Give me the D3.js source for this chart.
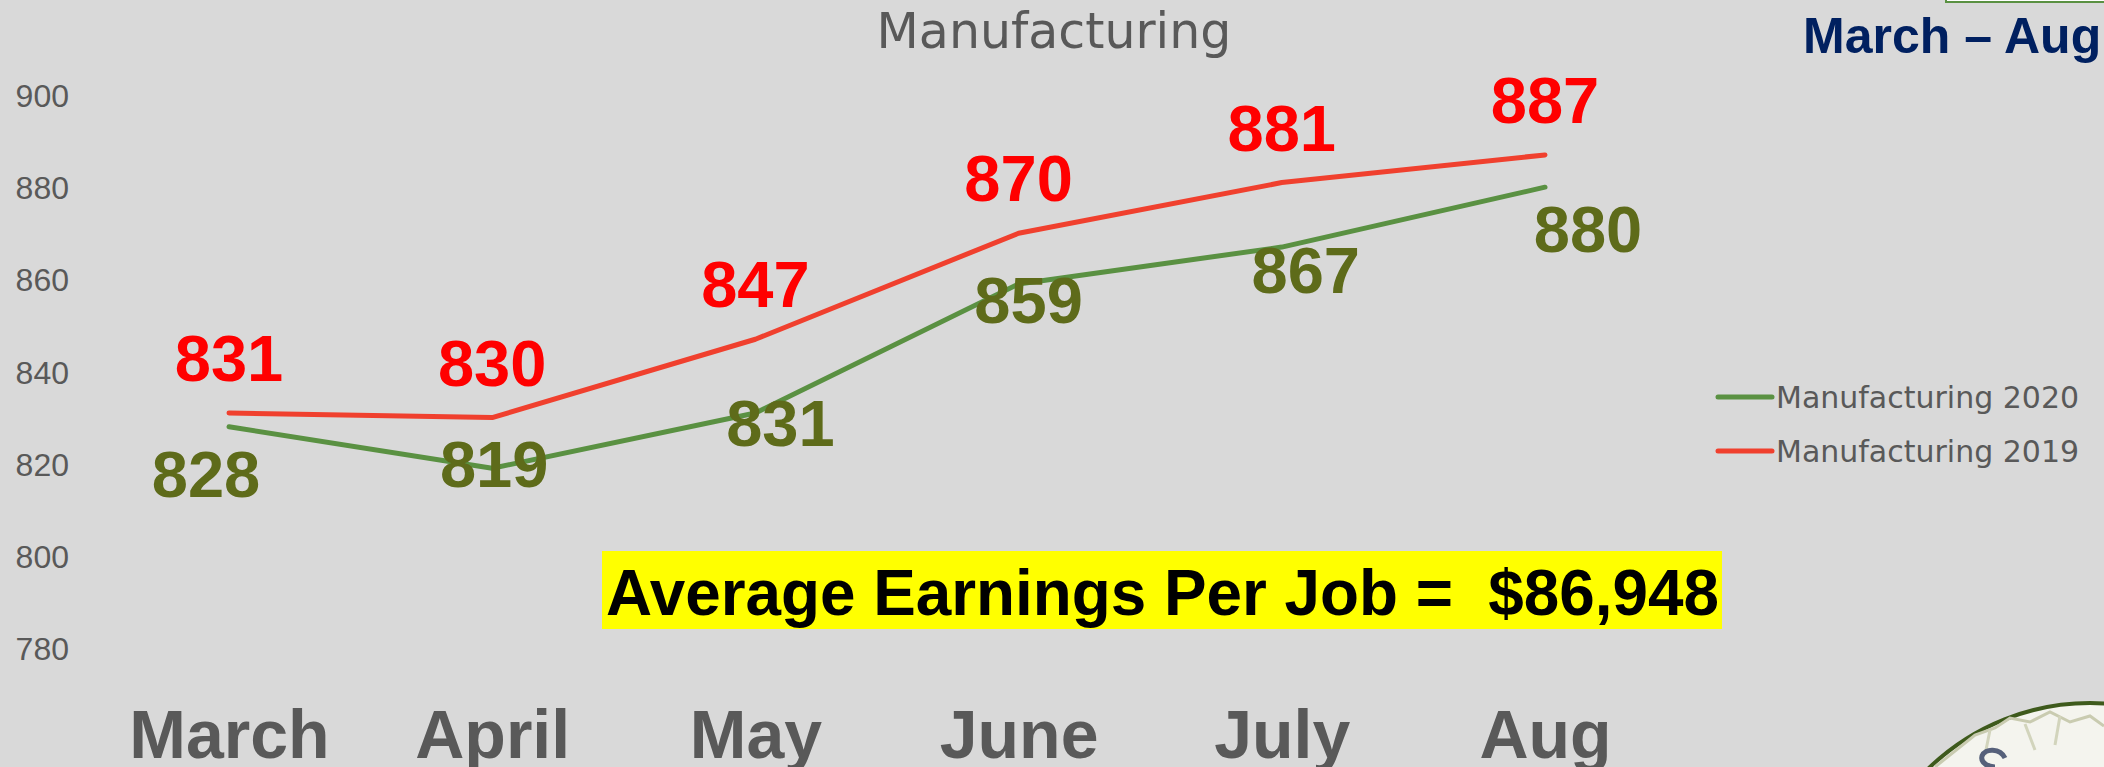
<!DOCTYPE html>
<html>
<head>
<meta charset="utf-8">
<script src="https://cdn.jsdelivr.net/npm/d3@7"></script>
<style>
  html, body { margin: 0; padding: 0; background: #d9d9d9; overflow: hidden; }
  svg { display: block; }
  text { white-space: pre; }
</style>
</head>
<body>
<svg id="chart" width="2104" height="767"></svg>
<script>
// ---- data ----
const months = ["March", "April", "May", "June", "July", "Aug"];
const manufacturing2020 = [828, 819, 831, 859, 867, 880];
const manufacturing2019 = [831, 830, 847, 870, 881, 887];
const yTicks = [780, 800, 820, 840, 860, 880, 900];
const seriesNames = ["Manufacturing 2020", "Manufacturing 2019"];
const chartTitle = "Manufacturing";
const periodTitle = "March \u2013 August";
const calloutText = "Average Earnings Per Job =  $86,948";

// ---- layout (label placement, not data) ----
const greenLabelOffsets = [[-23, 70], [2, 19], [25, 33], [10, 39], [24, 46], [43, 65]];
const redLabelDy = -32;

const svg = d3.select("#chart");
const W = 2104, H = 767;
svg.append("rect").attr("width", W).attr("height", H).attr("fill", "#d9d9d9");

const x = d3.scalePoint().domain(months).range([229, 1545]);
const y = d3.scaleLinear().domain([780, 900]).range([648, 95]);

const GRAY = "#595959";
const RED_LINE = "#f0402e", GREEN_LINE = "#5a9142";
const RED_LABEL = "#ff0000", GREEN_LABEL = "#5e6b1a";

// logo (partially visible, bottom-right)
const logo = svg.append("g");
logo.append("circle").attr("cx", 2090).attr("cy", 935).attr("r", 232)
  .attr("fill", "#f4f4ee").attr("stroke", "#3e5a1c").attr("stroke-width", 4);
logo.append("path")
  .attr("d", "M1935,767 L1975,735 L1995,728 L2010,718 L2030,722 L2050,712 L2070,722 L2090,716 L2104,726")
  .attr("fill", "none").attr("stroke", "#c9cbb0").attr("stroke-width", 3);
logo.append("path")
  .attr("d", "M1990,730 L1985,755 M2025,724 L2035,750 M2060,716 L2055,745")
  .attr("fill", "none").attr("stroke", "#d2d4bc").attr("stroke-width", 3);
logo.append("path")
  .attr("d", "M2005,758 C2000,748 1985,748 1982,756 C1980,764 1990,767 1995,767")
  .attr("fill", "none").attr("stroke", "#56607a").attr("stroke-width", 5);

// top-right box
svg.append("rect").attr("x", 1946).attr("y", -10).attr("width", 200).attr("height", 12)
  .attr("fill", "#ffffff").attr("stroke", GREEN_LINE).attr("stroke-width", 2);

// Titles
svg.append("text").attr("x", 1054).attr("y", 48).attr("text-anchor", "middle")
  .attr("font-family", "DejaVu Sans").attr("font-size", 49).attr("fill", GRAY)
  .text(chartTitle);
svg.append("text").attr("x", 1803).attr("y", 53)
  .attr("font-family", "Liberation Sans").attr("font-weight", "bold").attr("font-size", 50)
  .attr("fill", "#002060").text(periodTitle);

// Y axis
const yAxis = svg.append("g").attr("transform", "translate(69,0)")
  .call(d3.axisLeft(y).tickValues(yTicks).tickSize(0).tickPadding(0).tickFormat(d3.format("d")));
yAxis.select(".domain").remove();
yAxis.selectAll("text").attr("font-family", "Liberation Sans").attr("font-size", 32)
  .attr("fill", GRAY).attr("dy", "0.36em");

// X axis
const xAxis = svg.append("g").attr("transform", "translate(0,758)")
  .call(d3.axisBottom(x).tickSize(0).tickPadding(0));
xAxis.select(".domain").remove();
xAxis.selectAll("text").attr("dy", 0).attr("y", 0)
  .attr("font-family", "Liberation Sans").attr("font-weight", "bold").attr("font-size", 68)
  .attr("fill", GRAY);

// Lines
const line = d3.line().x((d, i) => x(months[i])).y(d => y(d));
svg.append("path").datum(manufacturing2019).attr("d", line)
  .attr("fill", "none").attr("stroke", RED_LINE).attr("stroke-width", 5)
  .attr("stroke-linecap", "round").attr("stroke-linejoin", "round");
svg.append("path").datum(manufacturing2020).attr("d", line)
  .attr("fill", "none").attr("stroke", GREEN_LINE).attr("stroke-width", 5)
  .attr("stroke-linecap", "round").attr("stroke-linejoin", "round");

// Data labels
svg.append("g").selectAll("text").data(manufacturing2019).join("text")
  .attr("x", (d, i) => x(months[i]))
  .attr("y", d => y(d) + redLabelDy)
  .attr("text-anchor", "middle")
  .attr("font-family", "Liberation Sans").attr("font-weight", "bold").attr("font-size", 65)
  .attr("fill", RED_LABEL).text(d => d);
svg.append("g").selectAll("text").data(manufacturing2020).join("text")
  .attr("x", (d, i) => x(months[i]) + greenLabelOffsets[i][0])
  .attr("y", (d, i) => y(d) + greenLabelOffsets[i][1])
  .attr("text-anchor", "middle")
  .attr("font-family", "Liberation Sans").attr("font-weight", "bold").attr("font-size", 65)
  .attr("fill", GREEN_LABEL).text(d => d);

// Legend
const legendColors = [GREEN_LINE, RED_LINE];
const legend = svg.append("g");
seriesNames.forEach((name, i) => {
  const ly = 397 + i * 54;
  legend.append("line").attr("x1", 1718).attr("x2", 1772).attr("y1", ly).attr("y2", ly)
    .attr("stroke", legendColors[i]).attr("stroke-width", 5).attr("stroke-linecap", "round");
  legend.append("text").attr("x", 1776).attr("y", ly + 11)
    .attr("font-family", "DejaVu Sans").attr("font-size", 30).attr("fill", GRAY).text(name);
});

// Callout
svg.append("rect").attr("x", 602).attr("y", 551).attr("width", 1120).attr("height", 78)
  .attr("fill", "#ffff00");
svg.append("text").attr("x", 606).attr("y", 615)
  .attr("font-family", "Liberation Sans").attr("font-weight", "bold").attr("font-size", 64)
  .attr("textLength", 1113).attr("lengthAdjust", "spacingAndGlyphs")
  .attr("fill", "#000000").text(calloutText);
</script>
</body>
</html>
